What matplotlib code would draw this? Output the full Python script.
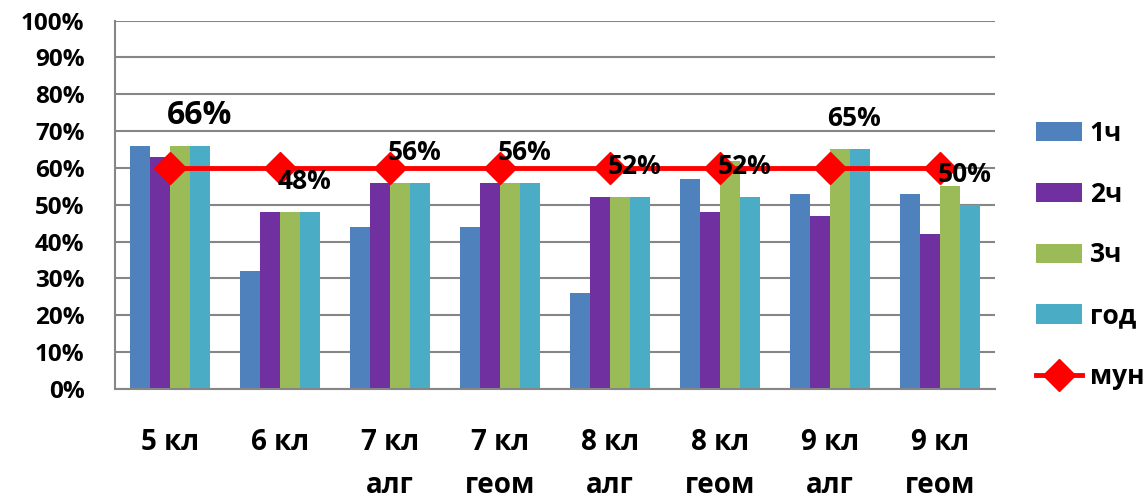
import numpy as np
import matplotlib.pyplot as plt

plt.rcParams['font.family'] = ['Open Sans', 'DejaVu Sans']
plt.rcParams['font.weight'] = 'bold'

# данные
classes = ['5 кл', '6 кл', '7 кл\nалг', '7 кл\nгеом', '8 кл\nалг', '8 кл\nгеом', '9 кл\nалг', '9 кл\nгеом']
ch1 = [66, 32, 44, 44, 26, 57, 53, 53]
ch2 = [63, 48, 56, 56, 52, 48, 47, 42]
ch3 = [66, 48, 56, 56, 52, 62, 65, 55]
god = [66, 48, 56, 56, 52, 52, 65, 50]
mun = [60, 60, 60, 60, 60, 60, 60, 60]

series = [('1ч', ch1, '#4F81BD'), ('2ч', ch2, '#7030A0'),
          ('3ч', ch3, '#9BBB59'), ('год', god, '#4BACC6')]

fig = plt.figure(figsize=(11.48, 4.99), dpi=100)
ax = fig.add_axes([0.1002, 0.2204, 0.7665, 0.7385])

x = np.arange(len(classes))
w = 0.182
handles = []
for k, (name, vals, col) in enumerate(series):
    b = ax.bar(x + (k - 1.5) * w, np.array(vals) / 100, w, color=col, label=name, zorder=2)
    handles.append(b)

ln, = ax.plot(x, np.array(mun) / 100, color='#FF0000', lw=3.5, marker='D', markersize=16.5,
              markeredgecolor='#FF0000', label='мун', zorder=3)
handles.append(ln)

# подписи годовой оценки
for i, v in enumerate(god):
    fs = 23 if i == 0 else 19
    ax.annotate(f'{v}%', xy=(i, v / 100), xytext=(-2, 22), textcoords='offset points',
                ha='left', va='center', fontsize=fs, fontweight='bold', zorder=4)

ax.set_xlim(-0.5, len(classes) - 0.5)
ax.set_ylim(0, 1)
ax.set_yticks(np.arange(0, 1.01, 0.1))
ax.set_yticklabels([f'{int(t)}%' for t in range(0, 101, 10)], fontsize=17.5)
ax.set_xticks(x)
ax.set_xticklabels(classes, fontsize=20, linespacing=1.65)
ax.tick_params(axis='both', length=0)
ax.tick_params(axis='x', pad=28)
ax.tick_params(axis='y', pad=22)

ax.yaxis.grid(True, color='#868686', lw=1.5, zorder=0)
ax.set_axisbelow(True)
for s in ['top', 'right']:
    ax.spines[s].set_visible(False)
for s in ['left', 'bottom']:
    ax.spines[s].set_color('#868686')
    ax.spines[s].set_linewidth(1.5)

fig.legend(handles=handles, loc='upper left', bbox_to_anchor=(0.893, 0.781), frameon=False,
           fontsize=19, handlelength=1.75, handleheight=0.75, labelspacing=1.28,
           handletextpad=0.3, borderaxespad=0)

plt.savefig('out.png', dpi=100)
